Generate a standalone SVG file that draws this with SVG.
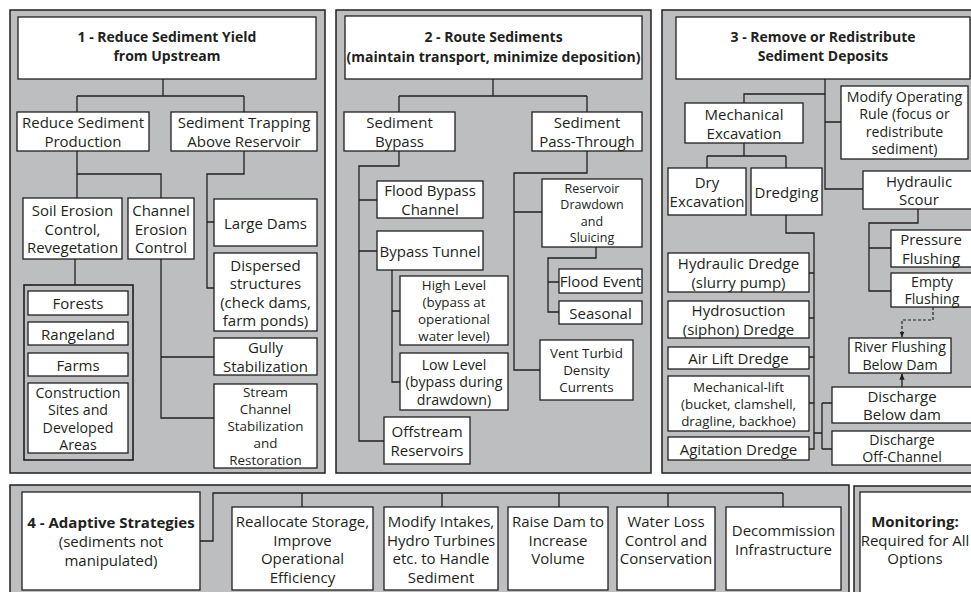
<svg xmlns="http://www.w3.org/2000/svg" width="971" height="592" viewBox="0 0 971 592">
<style>
.panel{fill:#bdbec0;stroke:#231f20;stroke-width:1.5}
.box{fill:#ffffff;stroke:#231f20;stroke-width:1.3}
.grp{fill:#bdbec0;stroke:#231f20;stroke-width:1.6}
.con{fill:none;stroke:#231f20;stroke-width:1.3}
.dash{fill:none;stroke:#231f20;stroke-width:1.2;stroke-dasharray:3,2}
text{font-family:"Open Sans","Liberation Sans",Arial,sans-serif;font-size:15px;fill:#231f20;text-anchor:middle;dominant-baseline:central}
.b{font-weight:bold;font-size:14px}
.b15{font-weight:bold}
</style>
<defs>
<marker id="ah" viewBox="0 0 10 10" refX="9" refY="5" markerWidth="5" markerHeight="5" orient="auto">
<path d="M0,1 L10,5 L0,9 z" fill="#231f20"/>
</marker>
</defs>
<rect width="971" height="592" fill="#ffffff"/>
<g id="panels">
<rect class="panel" x="10" y="10" width="315" height="463"/>
<rect class="panel" x="336" y="10" width="315" height="463"/>
<rect class="panel" x="662" y="10" width="320" height="463"/>
<rect class="panel" x="10" y="485" width="839" height="120"/>
<rect class="panel" x="854" y="486" width="130" height="120"/>
</g>
<g id="connectors">
<path class="con" d="M163,79V96M77,96H244M77,96V112M244,96V112"/>
<path class="con" d="M77,151V198M77,174H161V198"/>
<path class="con" d="M244,151V174H207V288H214M207,222H214"/>
<path class="con" d="M75,259V285"/>
<path class="con" d="M161,259V418H214M161,357H214"/>
<path class="con" d="M493,79V96M399,96H587M399,96V112M587,96V112"/>
<path class="con" d="M399,151V166H359V441H384M359,200H377M359,251H377"/>
<path class="con" d="M392,270V382H400M392,311H400"/>
<path class="con" d="M587,151V173H514V370H540M514,212H542"/>
<path class="con" d="M596,247V258H548V312H559M548,282H559"/>
<path class="con" d="M825,79V189H863M825,94H744V103M825,122H841"/>
<path class="con" d="M744,143V156M707,156H786M707,156V168M786,156V168"/>
<path class="con" d="M786,215V233H814V449H809M809,273H814M809,318H814M809,357H814M809,403H814"/>
<path class="con" d="M814,433H822M822,403V449M822,403H832M822,449H832"/>
<path class="con" d="M918,209V223H869V291H891M869,248H891"/>
<path class="dash" d="M933,307V320H902V337" marker-end="url(#ah)"/>
<path class="con" d="M902,387V374" marker-end="url(#ah)"/>
<path class="con" d="M200,541H213V493H783M302,493V507M442,493V507M559,493V507M668,493V507M783,493V507"/>
</g>
<g id="t1"><rect class="box" x="18" y="17" width="298" height="62"/><text class="b" x="167" y="36">1 - Reduce Sediment Yield</text><text class="b" x="167" y="55">from Upstream</text></g>
<g id="rsp"><rect class="box" x="17" y="112" width="132" height="39"/><text x="83" y="122">Reduce Sediment</text><text x="83" y="141">Production</text></g>
<g id="stra"><rect class="box" x="171" y="112" width="146" height="39"/><text x="244" y="122">Sediment Trapping</text><text x="244" y="141">Above Reservoir</text></g>
<g id="soil"><rect class="box" x="23" y="198" width="99" height="61"/><text x="72.5" y="210">Soil Erosion</text><text x="72.5" y="228.5">Control,</text><text x="72.5" y="247">Revegetation</text></g>
<g id="chan"><rect class="box" x="128" y="198" width="66" height="61"/><text x="161" y="210">Channel</text><text x="161" y="228.5">Erosion</text><text x="161" y="247">Control</text></g>
<g id="large"><rect class="box" x="214" y="199" width="103" height="47"/><text x="265.5" y="222.5">Large Dams</text></g>
<g id="disp"><rect class="box" x="214" y="253" width="103" height="78"/><text x="265.5" y="264.5">Dispersed</text><text x="265.5" y="283">structures</text><text x="265.5" y="301.5">(check dams,</text><text x="265.5" y="320">farm ponds)</text></g>
<g id="landuse"><rect class="grp" x="24" y="285" width="109" height="175"/></g>
<g id="forests"><rect class="box" x="28" y="291" width="100" height="24"/><text x="78" y="303">Forests</text></g>
<g id="rangeland"><rect class="box" x="28" y="322" width="100" height="23"/><text x="78" y="333.5">Rangeland</text></g>
<g id="farms"><rect class="box" x="28" y="353" width="100" height="23"/><text x="78" y="364.5">Farms</text></g>
<g id="construction"><rect class="box" x="28" y="383" width="100" height="70"/><text style="font-size:14.2px" x="78" y="392">Construction</text><text style="font-size:14.2px" x="78" y="409.5">Sites and</text><text style="font-size:14.2px" x="78" y="427">Developed</text><text style="font-size:14.2px" x="78" y="444.5">Areas</text></g>
<g id="gully"><rect class="box" x="214" y="338" width="103" height="37"/><text x="265.5" y="347.25">Gully</text><text x="265.5" y="365.75">Stabilization</text></g>
<g id="stream"><rect class="box" x="214" y="384" width="103" height="84"/><text style="font-size:13.4px" x="265.5" y="392">Stream</text><text style="font-size:13.4px" x="265.5" y="409">Channel</text><text style="font-size:13.4px" x="265.5" y="426">Stabilization</text><text style="font-size:13.4px" x="265.5" y="443">and</text><text style="font-size:13.4px" x="265.5" y="460">Restoration</text></g>
<g id="t2"><rect class="box" x="345" y="16" width="297" height="63"/><text class="b" x="493.5" y="36">2 - Route Sediments</text><text class="b" x="493.5" y="56">(maintain transport, minimize deposition)</text></g>
<g id="bypass"><rect class="box" x="344" y="112" width="111" height="39"/><text x="399.5" y="122">Sediment</text><text x="399.5" y="141">Bypass</text></g>
<g id="pass"><rect class="box" x="532" y="112" width="110" height="39"/><text x="587" y="122">Sediment</text><text x="587" y="141">Pass-Through</text></g>
<g id="floodbypass"><rect class="box" x="377" y="181" width="106" height="37"/><text x="430" y="190.25">Flood Bypass</text><text x="430" y="208.75">Channel</text></g>
<g id="tunnel"><rect class="box" x="377" y="231" width="106" height="39"/><text x="430" y="250.5">Bypass Tunnel</text></g>
<g id="high"><rect class="box" x="400" y="276" width="108" height="69"/><text style="font-size:13.4px" x="454" y="285">High Level</text><text style="font-size:13.4px" x="454" y="302">(bypass at</text><text style="font-size:13.4px" x="454" y="319">operational</text><text style="font-size:13.4px" x="454" y="336">water level)</text></g>
<g id="low"><rect class="box" x="400" y="353" width="108" height="57"/><text style="font-size:14.2px" x="454" y="364">Low Level</text><text style="font-size:14.2px" x="454" y="381.5">(bypass during</text><text style="font-size:14.2px" x="454" y="399">drawdown)</text></g>
<g id="offstream"><rect class="box" x="384" y="417" width="86" height="47"/><text x="427" y="431.25">Offstream</text><text x="427" y="449.75">Reservoirs</text></g>
<g id="sluice"><rect class="box" x="542" y="179" width="100" height="68"/><text style="font-size:12.5px" x="592" y="188.25">Reservoir</text><text style="font-size:12.5px" x="592" y="204.75">Drawdown</text><text style="font-size:12.5px" x="592" y="221.25">and</text><text style="font-size:12.5px" x="592" y="237.75">Sluicing</text></g>
<g id="floodevent"><rect class="box" x="559" y="269" width="83" height="24"/><text x="600.5" y="281">Flood Event</text></g>
<g id="seasonal"><rect class="box" x="559" y="301" width="83" height="23"/><text x="600.5" y="312.5">Seasonal</text></g>
<g id="vent"><rect class="box" x="540" y="340" width="93" height="60"/><text style="font-size:13.4px" x="586.5" y="353">Vent Turbid</text><text style="font-size:13.4px" x="586.5" y="370">Density</text><text style="font-size:13.4px" x="586.5" y="387">Currents</text></g>
<g id="t3"><rect class="box" x="676" y="17" width="294" height="62"/><text class="b" x="823" y="36">3 - Remove or Redistribute</text><text class="b" x="823" y="55">Sediment Deposits</text></g>
<g id="mech"><rect class="box" x="685" y="103" width="118" height="40"/><text x="744" y="113.5">Mechanical</text><text x="744" y="132.5">Excavation</text></g>
<g id="modify"><rect class="box" x="841" y="86" width="127" height="73"/><text style="font-size:14.2px" x="904.5" y="96.25">Modify Operating</text><text style="font-size:14.2px" x="904.5" y="113.75">Rule (focus or</text><text style="font-size:14.2px" x="904.5" y="131.25">redistribute</text><text style="font-size:14.2px" x="904.5" y="148.75">sediment)</text></g>
<g id="dry"><rect class="box" x="668" y="168" width="78" height="47"/><text x="707" y="182.25">Dry</text><text x="707" y="200.75">Excavation</text></g>
<g id="dredging"><rect class="box" x="751" y="168" width="71" height="47"/><text x="786.5" y="191.5">Dredging</text></g>
<g id="hscour"><rect class="box" x="863" y="171" width="112" height="38"/><text x="919" y="180.75">Hydraulic</text><text x="919" y="199.25">Scour</text></g>
<g id="pressure"><rect class="box" x="891" y="230" width="84" height="37"/><text x="931" y="239.25">Pressure</text><text x="931" y="257.75">Flushing</text></g>
<g id="empty"><rect class="box" x="891" y="273" width="84" height="34"/><text style="font-size:14.2px" x="932" y="281.25">Empty</text><text style="font-size:14.2px" x="932" y="298.75">Flushing</text></g>
<g id="river"><rect class="box" x="849" y="338" width="102" height="35"/><text style="font-size:14.2px" x="900" y="346.75">River Flushing</text><text style="font-size:14.2px" x="900" y="364.25">Below Dam</text></g>
<g id="disbelow"><rect class="box" x="832" y="387" width="143" height="36"/><text x="902" y="395.75">Discharge</text><text x="902" y="414.25">Below dam</text></g>
<g id="disoff"><rect class="box" x="832" y="431" width="143" height="34"/><text style="font-size:14.2px" x="902" y="439.25">Discharge</text><text style="font-size:14.2px" x="902" y="456.75">Off-Channel</text></g>
<g id="hyddredge"><rect class="box" x="668" y="253" width="141" height="39"/><text x="738.5" y="263.25">Hydraulic Dredge</text><text x="738.5" y="281.75">(slurry pump)</text></g>
<g id="hydrosuction"><rect class="box" x="668" y="301" width="141" height="37"/><text x="738.5" y="310.25">Hydrosuction</text><text x="738.5" y="328.75">(siphon) Dredge</text></g>
<g id="airlift"><rect class="box" x="668" y="347" width="141" height="22"/><text x="738.5" y="358">Air Lift Dredge</text></g>
<g id="mechlift"><rect class="box" x="668" y="376" width="141" height="55"/><text style="font-size:13.4px" x="738.5" y="386.5">Mechanical-lift</text><text style="font-size:13.4px" x="738.5" y="403.5">(bucket, clamshell,</text><text style="font-size:13.4px" x="738.5" y="420.5">dragline, backhoe)</text></g>
<g id="agitation"><rect class="box" x="668" y="437" width="141" height="23"/><text x="738.5" y="448.5">Agitation Dredge</text></g>
<g id="adaptive"><rect class="box" x="22" y="492" width="178" height="98"/><text class="b15" x="111" y="522">4 - Adaptive Strategies</text><text x="111" y="541">(sediments not</text><text x="111" y="560">manipulated)</text></g>
<g id="reallocate"><rect class="box" x="232" y="507" width="141" height="83"/><text x="302.5" y="521">Reallocate Storage,</text><text x="302.5" y="539.5">Improve</text><text x="302.5" y="558">Operational</text><text x="302.5" y="576.5">Efficiency</text></g>
<g id="intakes"><rect class="box" x="384" y="507" width="114" height="83"/><text x="441" y="521">Modify Intakes,</text><text x="441" y="539.5">Hydro Turbines</text><text x="441" y="558">etc. to Handle</text><text x="441" y="576.5">Sediment</text></g>
<g id="raise"><rect class="box" x="508" y="507" width="100" height="83"/><text x="558" y="521">Raise Dam to</text><text x="558" y="539.5">Increase</text><text x="558" y="558">Volume</text></g>
<g id="water"><rect class="box" x="617" y="507" width="98" height="83"/><text x="666" y="521">Water Loss</text><text x="666" y="539.5">Control and</text><text x="666" y="558">Conservation</text></g>
<g id="decom"><rect class="box" x="726" y="507" width="115" height="83"/><text x="783.5" y="530">Decommission</text><text x="783.5" y="549">Infrastructure</text></g>
<g id="monitoring"><rect class="box" x="860" y="492" width="120" height="110"/><text class="b15" x="915" y="521">Monitoring:</text><text x="915" y="539.5">Required for All</text><text x="915" y="558">Options</text></g>
</svg>
